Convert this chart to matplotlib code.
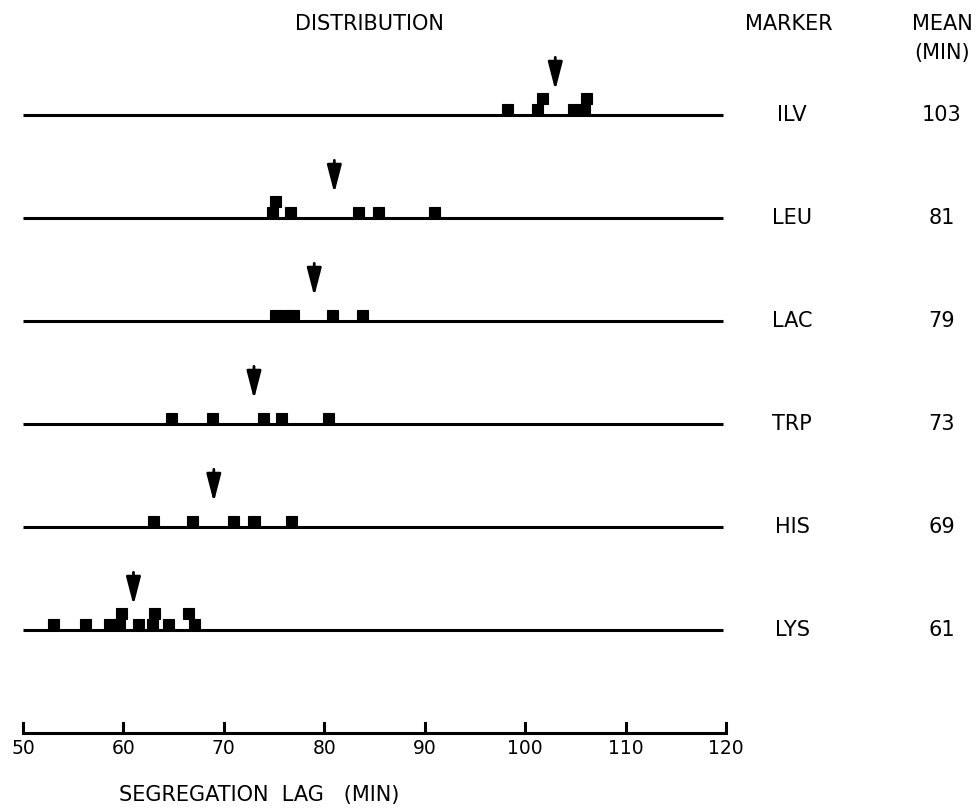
import matplotlib.pyplot as plt
from matplotlib.patches import Rectangle

# segregation lag (min) of each clone
markers = ['ILV', 'LEU', 'LAC', 'TRP', 'HIS', 'LYS']
means = [103, 81, 79, 73, 69, 61]
ilv = [98.2, 101.2, 101.7, 104.8, 105.9, 106.1]
leu = [74.8, 75.1, 76.6, 83.4, 85.4, 91.0]
lac = [75.1, 76.0, 76.9, 80.8, 83.8]
trp = [64.8, 68.9, 73.9, 75.7, 80.4]
his = [63.0, 66.9, 71.0, 73.0, 76.7]
lys = [53.0, 56.2, 58.6, 59.6, 59.8, 61.5, 62.9, 63.1, 64.5, 67.1, 66.5]
lags = [ilv, leu, lac, trp, his, lys]
xticks = [50, 60, 70, 80, 90, 100, 110, 120]

plt.rcParams['font.family'] = 'DejaVu Sans'

fig = plt.figure(figsize=(9.8, 8.09), dpi=100)
ax = fig.add_axes([0, 0, 1, 1])
# 1 min ~ 10 px, one row ~ 103 px
ax.set_xlim(47.71, 145.29)
ax.set_ylim(6.738, -1.1165)
ax.axis('off')

sq_w = 1.1
sq_h = 0.107

for i, vals in enumerate(lags):
    ax.plot([50, 119.7], [i, i], color='black', lw=2.2, solid_capstyle='butt')
    for j, v in enumerate(vals):
        # stack squares that fall on top of an earlier one
        lvl = sum(1 for u in vals[:j] if abs(u - v) < 0.7)
        ax.add_patch(Rectangle((v - sq_w / 2, i - (lvl + 1) * sq_h), sq_w, sq_h,
                               facecolor='black', edgecolor='black', lw=0.8))
    ax.annotate('', xy=(means[i], i - 0.24), xytext=(means[i], i - 0.56),
                arrowprops=dict(arrowstyle='-|>,head_length=0.85,head_width=0.22',
                                mutation_scale=20, lw=2.0, color='black',
                                shrinkA=0, shrinkB=0))
    ax.text(126.6, i, markers[i], ha='center', va='center', fontsize=15)
    ax.text(141.5, i, str(means[i]), ha='center', va='center', fontsize=15)

# x axis with upward ticks
ax.plot([50, 120], [6, 6], color='black', lw=2.2, solid_capstyle='butt')
for t in xticks:
    ax.plot([t, t], [6, 5.9], color='black', lw=2.2)
    ax.text(t, 6.15, str(t), ha='center', va='center', fontsize=13.5)
ax.text(73.5, 6.6, 'SEGREGATION  LAG   (MIN)', ha='center', va='center', fontsize=15)

ax.text(84.5, -0.88, 'DISTRIBUTION', ha='center', va='center', fontsize=15)
ax.text(126.3, -0.88, 'MARKER', ha='center', va='center', fontsize=15)
ax.text(141.5, -0.88, 'MEAN', ha='center', va='center', fontsize=15)
ax.text(141.5, -0.6, '(MIN)', ha='center', va='center', fontsize=15)

plt.savefig('out.png', dpi=100)
plt.close()
